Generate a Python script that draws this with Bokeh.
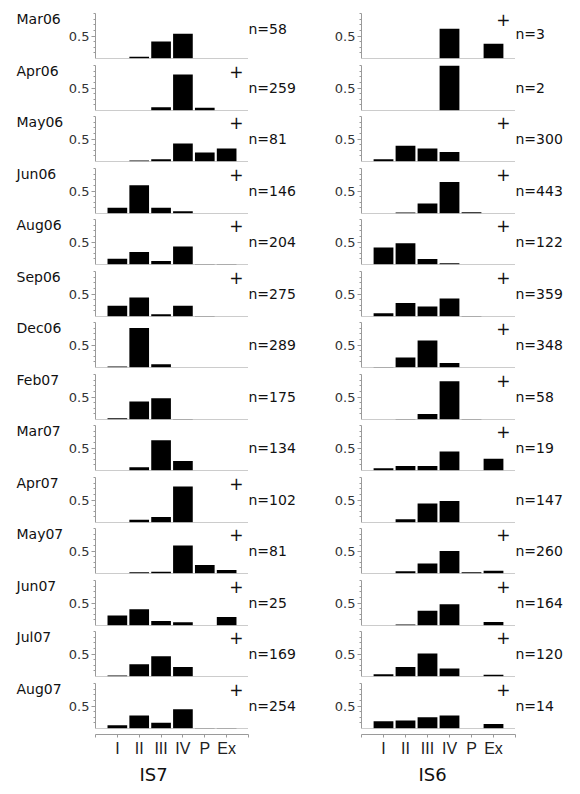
import math
from bokeh.plotting import figure
from bokeh.layouts import row, column
from bokeh.models import Range1d, FixedTicker, Label, Span, ColumnDataSource
from bokeh.embed import file_html
from bokeh.resources import INLINE

categories = ["I", "II", "III", "IV", "P", "Ex"]
months = ["Mar06", "Apr06", "May06", "Jun06", "Aug06", "Sep06", "Dec06",
          "Feb07", "Mar07", "Apr07", "May07", "Jun07", "Jul07", "Aug07"]

is7_n = [58, 259, 81, 146, 204, 275, 289, 175, 134, 102, 81, 25, 169, 254]
is6_n = [3, 2, 300, 443, 122, 359, 348, 58, 19, 147, 260, 164, 120, 14]
is7_plus = [False, True, True, True, True, True, False, False, False, True, True, True, True, True]
is6_plus = [True, False, True, True, True, True, True, True, True, False, True, True, True, True]

# proportions per category (rows follow months)
is7_I   = [0.00, 0.00, 0.00, 0.13, 0.13, 0.24, 0.02, 0.03, 0.00, 0.00, 0.00, 0.22, 0.02, 0.07]
is7_II  = [0.04, 0.00, 0.02, 0.63, 0.28, 0.42, 0.88, 0.40, 0.07, 0.06, 0.03, 0.36, 0.27, 0.29]
is7_III = [0.38, 0.07, 0.05, 0.13, 0.08, 0.05, 0.07, 0.47, 0.67, 0.12, 0.04, 0.10, 0.45, 0.13]
is7_IV  = [0.55, 0.80, 0.40, 0.05, 0.40, 0.24, 0.00, 0.01, 0.21, 0.80, 0.62, 0.07, 0.21, 0.43]
is7_P   = [0.00, 0.06, 0.20, 0.00, 0.01, 0.01, 0.00, 0.00, 0.00, 0.00, 0.19, 0.00, 0.00, 0.01]
is7_Ex  = [0.00, 0.00, 0.29, 0.00, 0.01, 0.00, 0.00, 0.00, 0.00, 0.00, 0.08, 0.19, 0.00, 0.01]

is6_I   = [0.00, 0.00, 0.05, 0.00, 0.38, 0.07, 0.01, 0.00, 0.05, 0.00, 0.00, 0.00, 0.05, 0.16]
is6_II  = [0.00, 0.00, 0.35, 0.02, 0.47, 0.30, 0.22, 0.01, 0.10, 0.07, 0.05, 0.02, 0.21, 0.18]
is6_III = [0.00, 0.00, 0.29, 0.22, 0.12, 0.22, 0.60, 0.12, 0.10, 0.42, 0.22, 0.33, 0.51, 0.25]
is6_IV  = [0.66, 1.00, 0.21, 0.70, 0.03, 0.40, 0.10, 0.85, 0.42, 0.48, 0.50, 0.47, 0.18, 0.29]
is6_P   = [0.00, 0.00, 0.00, 0.03, 0.00, 0.01, 0.00, 0.01, 0.00, 0.00, 0.03, 0.00, 0.00, 0.00]
is6_Ex  = [0.33, 0.00, 0.00, 0.00, 0.00, 0.00, 0.00, 0.00, 0.26, 0.00, 0.06, 0.08, 0.04, 0.10]

site_labels = ["IS7", "IS6"]

AX = "#9a9a9a"
FONT = "DejaVu Sans"
FRAME_H = 45
NCAT = len(categories)
xs = list(range(1, NCAT + 1))

tops = [int(math.floor(13 + 51.5 * i + 0.5)) for i in range(len(months))]


def blank_fig(fw, bt, yr):
    f = figure(frame_width=fw, frame_height=FRAME_H,
               x_range=Range1d(0, 1), y_range=yr,
               x_axis_location=None, y_axis_location=None,
               toolbar_location=None, output_backend="svg", title=None,
               min_border_left=0, min_border_right=0,
               min_border_top=bt, min_border_bottom=3)
    f.outline_line_color = None
    f.grid.visible = False
    f.background_fill_color = "white"
    f.border_fill_color = "white"
    return f


def make_panel(cols, i, n, plus, is_left, b_top, fw, bl, nw, mw):
    yr = Range1d(0, 1)
    vals = [c[i] for c in cols]
    src = ColumnDataSource(dict(x=xs, top=vals))
    p = figure(frame_width=fw, frame_height=FRAME_H,
               x_range=Range1d(0, NCAT + 1), y_range=yr,
               x_axis_location=None, toolbar_location=None,
               output_backend="svg", title=None,
               min_border_left=bl, min_border_right=0,
               min_border_top=b_top, min_border_bottom=3)
    p.outline_line_color = None
    p.grid.visible = False
    p.background_fill_color = "white"
    p.border_fill_color = "white"
    p.vbar(x="x", top="top", width=0.9, source=src,
           fill_color="black", line_color=None)
    p.add_layout(Span(location=0, dimension="width", line_color=AX, line_width=1))
    ya = p.yaxis[0]
    ya.ticker = FixedTicker(ticks=[0.5],
                            minor_ticks=[0.125, 0.25, 0.375, 0.625, 0.75, 0.875, 1.0])
    ya.axis_line_color = AX
    ya.major_tick_line_color = AX
    ya.minor_tick_line_color = AX
    ya.major_tick_out = 4
    ya.major_tick_in = 0
    ya.minor_tick_out = 2
    ya.minor_tick_in = 0
    ya.major_label_standoff = 2
    ya.major_label_text_font = FONT
    ya.major_label_text_font_size = "13px"
    ya.major_label_text_color = "#333333"

    if plus:
        p.add_layout(Label(x=6.45, y=0.86, text="+",
                           text_align="center", text_baseline="middle",
                           text_font=FONT, text_font_size="17px",
                           text_color="#111111"))

    items = []
    if is_left:
        m = blank_fig(mw, b_top, yr)
        m.add_layout(Label(x=0, y=0.87, x_offset=16, text=months[i],
                           text_align="left", text_baseline="alphabetic",
                           text_font=FONT, text_font_size="14px",
                           text_color="#111111"))
        items.append(m)
    items.append(p)
    nf = blank_fig(nw, b_top, yr)
    ny = 0.49
    if i == 0:
        ny = 0.66 if is_left else 0.55
    nf.add_layout(Label(x=0, y=ny, x_offset=0, text="n=%d" % n,
                        text_align="left", text_baseline="middle",
                        text_font=FONT, text_font_size="14px",
                        text_color="#111111"))
    items.append(nf)
    return row(*items)


def make_axis(fw, bl, br):
    p = figure(frame_width=fw, frame_height=3,
               x_range=Range1d(0, NCAT + 1), y_range=Range1d(0, 1),
               y_axis_location=None, toolbar_location=None,
               output_backend="svg", title=None,
               min_border_left=bl, min_border_right=br,
               min_border_top=0, min_border_bottom=0)
    p.outline_line_color = None
    p.grid.visible = False
    p.border_fill_color = "white"
    p.background_fill_color = "white"
    xa = p.xaxis[0]
    xa.ticker = FixedTicker(ticks=list(range(0, NCAT + 2)))
    overrides = {0: "", NCAT + 1: ""}
    for k, c in enumerate(categories):
        overrides[k + 1] = c
    xa.major_label_overrides = overrides
    xa.axis_line_color = AX
    xa.major_tick_line_color = AX
    xa.major_tick_out = 3
    xa.major_tick_in = 0
    xa.minor_tick_line_color = None
    xa.major_label_standoff = 2
    xa.major_label_text_font = "Liberation Sans"
    xa.major_label_text_font_size = "16px"
    xa.major_label_text_color = "#222222"
    return p


def make_title(total_w, bl, center, label):
    # an axis whose label is centred where the site name sits
    fw = 2 * (center - bl)
    p = figure(frame_width=fw, frame_height=1,
               x_range=Range1d(0, 1), y_range=Range1d(0, 1),
               y_axis_location=None, toolbar_location=None,
               output_backend="svg", title=None,
               min_border_left=bl, min_border_right=total_w - bl - fw,
               min_border_top=0, min_border_bottom=0)
    p.outline_line_color = None
    p.grid.visible = False
    p.border_fill_color = "white"
    p.background_fill_color = "white"
    xa = p.xaxis[0]
    xa.ticker = FixedTicker(ticks=[])
    xa.axis_line_color = None
    xa.major_tick_line_color = None
    xa.minor_tick_line_color = None
    xa.major_label_text_font_size = "0px"
    xa.major_label_standoff = 0
    xa.axis_label = label
    xa.axis_label_standoff = 3
    xa.axis_label_text_font = FONT
    xa.axis_label_text_font_size = "18px"
    xa.axis_label_text_font_style = "normal"
    xa.axis_label_text_color = "#111111"
    return p


def build_column(cols, ns, pluses, is_left, fw, bl, nw, mw, label, center):
    rows = []
    for i in range(len(months)):
        if i == 0:
            bt = tops[0]
        else:
            bt = tops[i] - (tops[i - 1] + FRAME_H + 3)
        rows.append(make_panel(cols, i, ns[i], pluses[i], is_left, bt, fw, bl, nw, mw))
    lb = (mw + bl) if is_left else bl
    rows.append(make_axis(fw, lb, nw))
    rows.append(make_title(lb + fw + nw, lb, center, label))
    return column(*rows)


left = build_column([is7_I, is7_II, is7_III, is7_IV, is7_P, is7_Ex],
                    is7_n, is7_plus, True, 153, 30, 72, 65, site_labels[0], 153)
right = build_column([is6_I, is6_II, is6_III, is6_IV, is6_P, is6_Ex],
                     is6_n, is6_plus, False, 154, 41, 60, 0, site_labels[1], 112)

layout = row(left, right)
open("out.html", "w").write(file_html(layout, INLINE))
